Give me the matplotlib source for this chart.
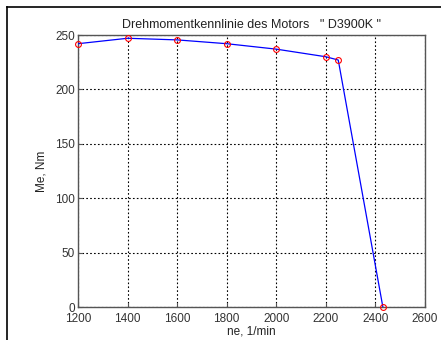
#!/usr/bin/env python3
"""
Torque curve of the D3900K engine, MATLAB-style plot.
"""

import matplotlib
matplotlib.use("Agg")
import matplotlib.pyplot as plt
from matplotlib.lines import Line2D

# Data
speed_rpm = [1200, 1400, 1600, 1800, 2000, 2200, 2250, 2430]
torque_nm = [242, 247, 245.5, 242, 237, 230, 227, 0]

x_ticks = [1200, 1400, 1600, 1800, 2000, 2200, 2400, 2600]
y_ticks = [0, 50, 100, 150, 200, 250]

plt.rcParams["font.family"] = ["Liberation Sans", "DejaVu Sans"]

W, H = 441, 340
fig = plt.figure(figsize=(W / 100, H / 100), dpi=100)
fig.patch.set_facecolor("white")

# axes box in pixels: left 78, right 425, top 35, bottom 307
ax = fig.add_axes([78 / W, 1 - 307 / H, (425 - 78) / W, (307 - 35) / H])

ax.plot(speed_rpm, torque_nm, color="blue", lw=0.9, zorder=3)
ax.plot(speed_rpm, torque_nm, "o", mfc="none", mec="red", ms=4.2, mew=0.8,
        zorder=4, clip_on=False)

ax.set_xlim(1200, 2600)
ax.set_ylim(0, 250)
ax.set_xticks(x_ticks)
ax.set_yticks(y_ticks)
ax.grid(True, color="black", linestyle=(0, (1.5, 2)), linewidth=0.8)
ax.tick_params(direction="in", length=3, labelsize=8.5, colors="#555555",
               labelcolor="#333333", pad=2)
ax.tick_params(axis="x", pad=4.5)
for s in ax.spines.values():
    s.set_color("#555555")
    s.set_linewidth(1.0)

ax.set_title('Drehmomentkennlinie des Motors   " D3900K "', fontsize=9,
             color="#222222", pad=5)
ax.set_xlabel("ne, 1/min", fontsize=8.5, color="#222222", labelpad=0)
ax.set_ylabel("Me, Nm", fontsize=8.5, color="#222222", labelpad=6)

# black frame on the left and top edges of the picture
fig.add_artist(Line2D([6.5 / W, 6.5 / W], [0, 1 - 6.5 / H],
                      transform=fig.transFigure, color="black", lw=1.2))
fig.add_artist(Line2D([6.5 / W, 1], [1 - 6.5 / H, 1 - 6.5 / H],
                      transform=fig.transFigure, color="black", lw=1.2))

fig.savefig("out.png", dpi=100)
